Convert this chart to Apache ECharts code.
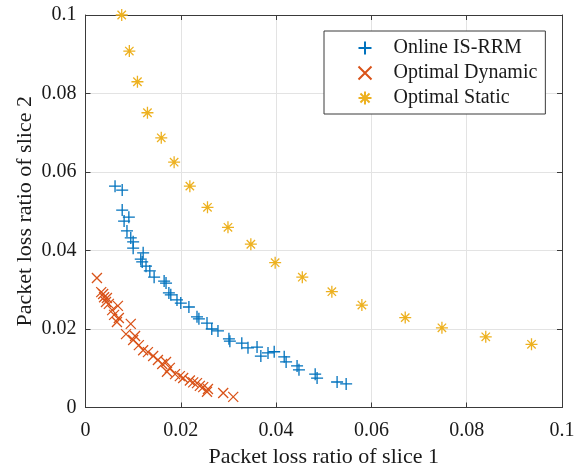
<!DOCTYPE html>
<html>
<head>
<meta charset="utf-8">
<script src="https://cdn.jsdelivr.net/npm/echarts@6/dist/echarts.min.js"></script>
<style>
  html, body { margin: 0; padding: 0; background: #fff; }
  #chart { width: 581px; height: 470px; }
</style>
</head>
<body>
<div id="chart"></div>
<script>
// values
const onlineX = [0.0062, 0.0077, 0.0077, 0.0091, 0.0081, 0.0087, 0.0095, 0.0100, 0.0100, 0.0121,
  0.0116, 0.0119, 0.0127, 0.0135, 0.0144, 0.0165, 0.0169, 0.0175, 0.0179, 0.0192,
  0.0200, 0.0217, 0.0234, 0.0238, 0.0255, 0.0265, 0.0278, 0.0301, 0.0303, 0.0328,
  0.0341, 0.0360, 0.0368, 0.0383, 0.0396, 0.0417, 0.0421, 0.0444, 0.0448, 0.0482,
  0.0486, 0.0528, 0.0547];
const onlineY = [0.0564, 0.0554, 0.0503, 0.0485, 0.0475, 0.0450, 0.0432, 0.0422, 0.0406, 0.0394,
  0.0378, 0.0371, 0.0360, 0.0348, 0.0332, 0.0322, 0.0317, 0.0292, 0.0287, 0.0274,
  0.0266, 0.0256, 0.0231, 0.0226, 0.0215, 0.0200, 0.0195, 0.0175, 0.0169, 0.0164,
  0.0152, 0.0154, 0.0131, 0.0139, 0.0142, 0.0129, 0.0116, 0.0106, 0.0096, 0.0085,
  0.0075, 0.0065, 0.0060];

const dynamicX = [0.0024, 0.0033, 0.0037, 0.0039, 0.0045, 0.0043, 0.0049, 0.0068, 0.0056, 0.0060,
  0.0070, 0.0066, 0.0095, 0.0085, 0.0104, 0.0100, 0.0112, 0.0121, 0.0131, 0.0142,
  0.0152, 0.0161, 0.0169, 0.0177, 0.0171, 0.0188, 0.0198, 0.0205, 0.0219, 0.0226,
  0.0234, 0.0240, 0.0247, 0.0257, 0.0255, 0.0289, 0.0310];
const dynamicY = [0.0330, 0.0294, 0.0289, 0.0281, 0.0279, 0.0269, 0.0264, 0.0259, 0.0248, 0.0236,
  0.0228, 0.0218, 0.0213, 0.0187, 0.0182, 0.0172, 0.0159, 0.0146, 0.0141, 0.0131,
  0.0121, 0.0111, 0.0116, 0.0101, 0.0091, 0.0085, 0.0080, 0.0075, 0.0069, 0.0064,
  0.0062, 0.0055, 0.0052, 0.0047, 0.0040, 0.0037, 0.0027];

const staticX = [0.0076, 0.0092, 0.0109, 0.0130, 0.0159, 0.0186, 0.0219, 0.0256, 0.0299, 0.0347,
  0.0398, 0.0455, 0.0517, 0.0580, 0.0671, 0.0748, 0.0840, 0.0936];
const staticY = [0.1000, 0.0908, 0.0830, 0.0751, 0.0687, 0.0625, 0.0564, 0.0510, 0.0459, 0.0416,
  0.0369, 0.0332, 0.0295, 0.0261, 0.0229, 0.0203, 0.0180, 0.0161];

const seriesNames = ["Online IS-RRM", "Optimal Dynamic", "Optimal Static"];
const axisTicks = [0, 0.02, 0.04, 0.06, 0.08, 0.1];

const FONT = "Liberation Serif";
const TXT = "#1a1a1a";
const plus = "path://M5,0L5,10M0,5L10,5";
const cross = "path://M0,0L10,10M10,0L0,10";
const star = "path://M5,0L5,10M0,5L10,5M1.5,1.5L8.5,8.5M8.5,1.5L1.5,8.5";

function zip(xs, ys) {
  let out = [];
  for (let i = 0; i < xs.length; i++) out.push([xs[i], ys[i]]);
  return out;
}

function mkSeries(name, xs, ys, symbol, size, color) {
  return {
    type: "scatter",
    name: name,
    data: zip(xs, ys),
    symbol: symbol,
    symbolSize: size,
    itemStyle: { color: "none", borderColor: color, borderWidth: 1.3, opacity: 1 },
    emphasis: { disabled: true },
    animation: false
  };
}

const mainAxis = {
  min: 0,
  max: 0.1,
  interval: 0.02,
  axisLine: { show: true, onZero: false, lineStyle: { color: "#3a3a3a", width: 1 } },
  axisTick: { show: true, inside: true, length: 5, lineStyle: { color: "#3a3a3a" } },
  splitLine: { show: true, lineStyle: { color: "#e3e3e3", width: 1 } },
  nameLocation: "middle",
  nameMoveOverlap: false,
  nameTextStyle: { fontFamily: FONT, fontSize: 22, color: TXT }
};

const boxAxis = {
  min: 0,
  max: 0.1,
  interval: 0.02,
  axisLine: { show: true, onZero: false, lineStyle: { color: "#3a3a3a", width: 1 } },
  axisTick: { show: true, inside: true, length: 5, lineStyle: { color: "#3a3a3a" } },
  axisLabel: { show: false },
  splitLine: { show: false }
};

const chart = echarts.init(document.getElementById("chart"));
chart.setOption({
  backgroundColor: "#fff",
  textStyle: { fontFamily: FONT },
  grid: { left: 85.5, right: 19, top: 15, bottom: 62.5, outerBoundsMode: "none", containLabel: false },
  xAxis: [
    Object.assign({}, mainAxis, {
      type: "value",
      position: "bottom",
      name: "Packet loss ratio of slice 1",
      nameGap: 39,
      axisLabel: {
        fontFamily: FONT, fontSize: 20, color: TXT, margin: 13,
        formatter: v => String(axisTicks.find(t => Math.abs(t - v) < 1e-9) ?? v)
      }
    }),
    Object.assign({}, boxAxis, { type: "value", position: "top" })
  ],
  yAxis: [
    Object.assign({}, mainAxis, {
      type: "value",
      position: "left",
      name: "Packet loss ratio of slice 2",
      nameGap: 49,
      axisLabel: {
        fontFamily: FONT, fontSize: 20, color: TXT, margin: 9,
        formatter: v => String(axisTicks.find(t => Math.abs(t - v) < 1e-9) ?? v)
      }
    }),
    Object.assign({}, boxAxis, { type: "value", position: "right" })
  ],
  legend: {
    orient: "vertical",
    left: 324,
    top: 31,
    padding: [7, 8, 6, 32],
    itemGap: 5,
    itemWidth: 13,
    itemHeight: 13,
    borderColor: "#3a3a3a",
    borderWidth: 1,
    backgroundColor: "#fff",
    textStyle: { fontFamily: FONT, fontSize: 20, color: TXT, lineHeight: 20, padding: [0, 0, 0, 17] },
    data: seriesNames
  },
  series: [
    mkSeries(seriesNames[0], onlineX, onlineY, plus, 12, "#0072BD"),
    mkSeries(seriesNames[1], dynamicX, dynamicY, cross, 10, "#D95319"),
    mkSeries(seriesNames[2], staticX, staticY, star, 12, "#EDB120")
  ]
});
</script>
</body>
</html>
